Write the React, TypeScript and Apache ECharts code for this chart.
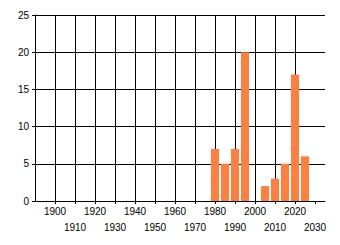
import React, { useEffect, useRef } from "react";
import * as echarts from "echarts";

const years = [1980, 1985, 1990, 1995, 2005, 2010, 2015, 2020, 2025];
const counts = [7, 5, 7, 20, 2, 3, 5, 17, 6];
const xTicks = [1900, 1910, 1920, 1930, 1940, 1950, 1960, 1970, 1980, 1990, 2000, 2010, 2020, 2030];

export default function App() {
  const ref = useRef<HTMLDivElement>(null);
  useEffect(() => {
    if (!ref.current) return;
    const chart = echarts.init(ref.current, null, { renderer: "svg" });
    const font = { fontFamily: "Liberation Sans, Arial, sans-serif", fontSize: 10, color: "#000" };
    chart.setOption({
      animation: false,
      grid: { left: 35, right: 15, top: 15, bottom: 44, containLabel: false },
      xAxis: {
        type: "value",
        min: 1890,
        max: 2035,
        interval: 10,
        axisLine: { show: true, lineStyle: { color: "#000", width: 1 } },
        axisTick: { show: true, length: 3, customValues: xTicks, lineStyle: { color: "#000" } },
        splitLine: { show: true, showMaxLine: false, lineStyle: { color: "#000", width: 1 } },
        axisLabel: {
          ...font,
          margin: 2,
          lineHeight: 16,
          hideOverlap: false,
          showMinLabel: false,
          showMaxLabel: false,
          formatter: (v: number) =>
            xTicks.indexOf(v) < 0 ? "" : (v / 10) % 2 === 0 ? String(v) : "\n" + v,
        },
      },
      yAxis: {
        type: "value",
        min: 0,
        max: 25,
        interval: 5,
        axisLine: { show: true, lineStyle: { color: "#000", width: 1 } },
        axisTick: { show: true, length: 3, lineStyle: { color: "#000" } },
        splitLine: { show: true, lineStyle: { color: "#000", width: 1 } },
        axisLabel: { ...font, margin: 6 },
      },
      series: [
        {
          type: "bar",
          barWidth: 8,
          itemStyle: { color: "#ff7f3f" },
          data: years.map((y, i) => [y, counts[i]]),
        },
      ],
    });
    return () => chart.dispose();
  }, []);
  return (
    <div
      ref={ref}
      style={{ position: "fixed", left: 0, top: 0, width: 340, height: 245, background: "#fff" }}
    />
  );
}
